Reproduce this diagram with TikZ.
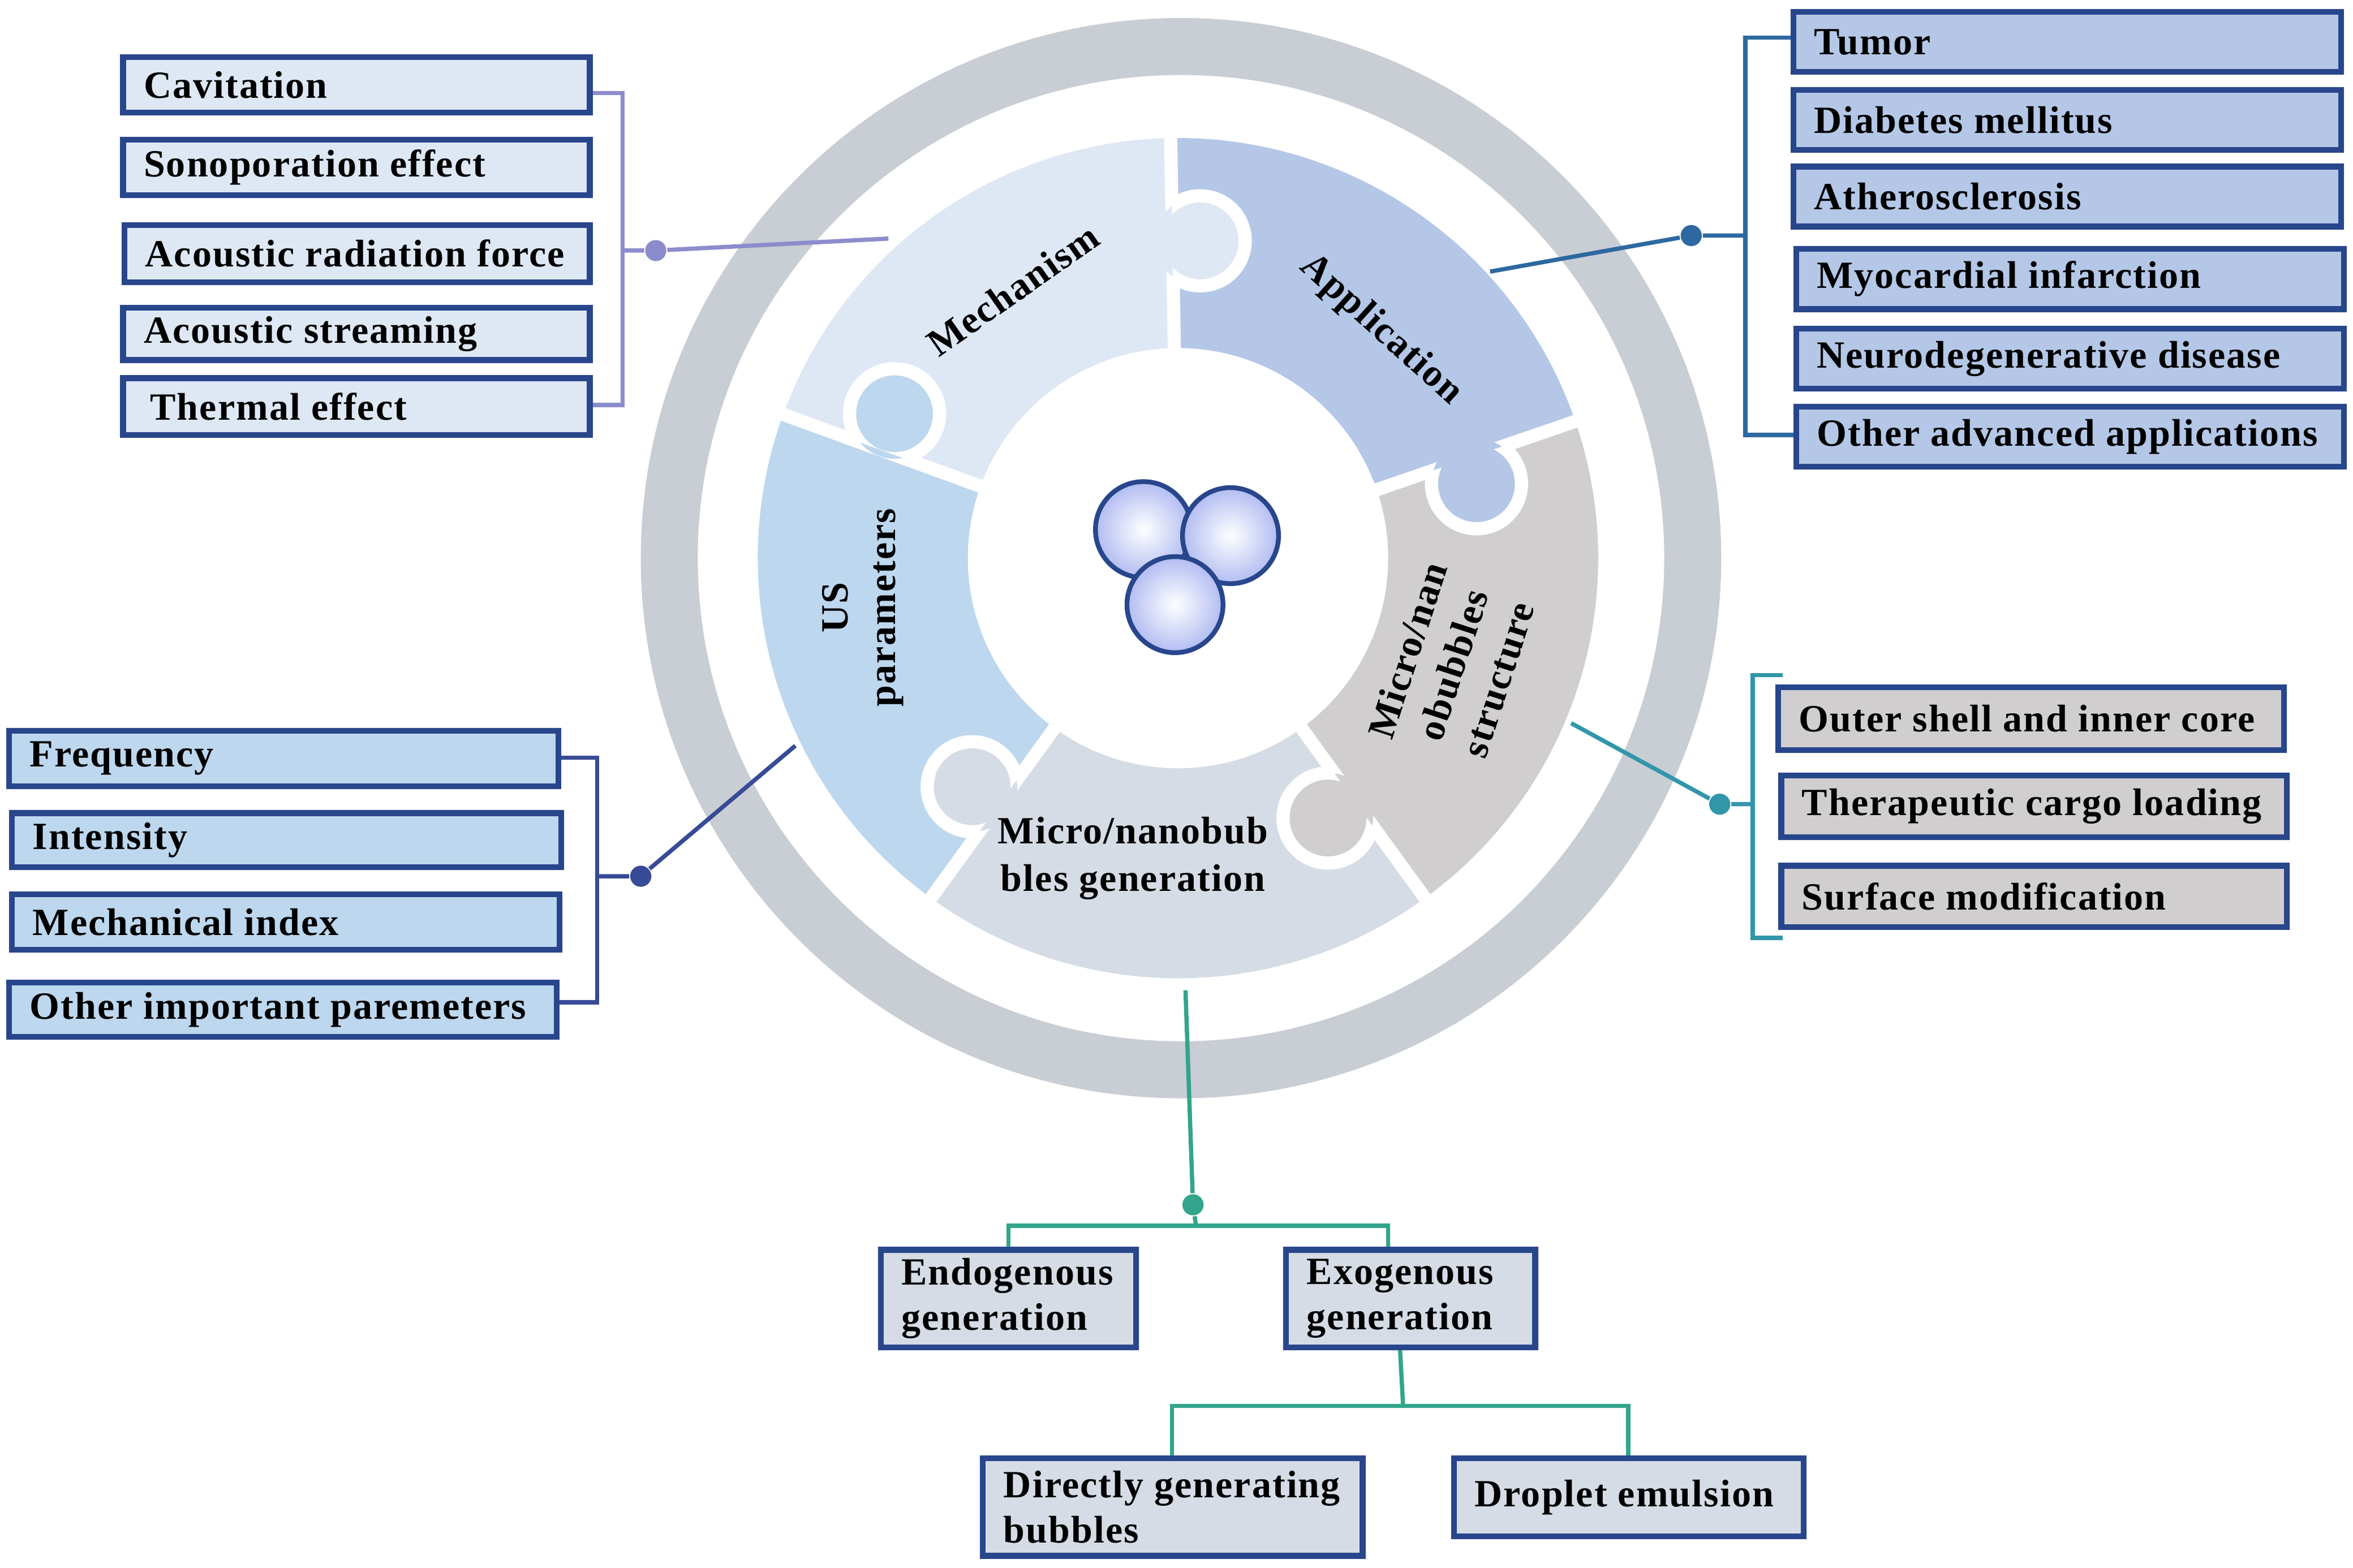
\documentclass[tikz,border=0pt]{standalone}
\usepackage{fontspec}
\setmainfont{Liberation Serif}[LetterSpace=3]
\usetikzlibrary{fit}
\definecolor{ring}{RGB}{201,205,212}
\definecolor{cMech}{RGB}{222,232,245}
\definecolor{cApp}{RGB}{180,199,231}
\definecolor{cStr}{RGB}{208,206,206}
\definecolor{cGen}{RGB}{214,220,229}
\definecolor{cUS}{RGB}{189,215,238}
\definecolor{bord}{RGB}{40,70,140}
\definecolor{lMech}{RGB}{140,140,205}
\definecolor{lApp}{RGB}{45,105,160}
\definecolor{lStr}{RGB}{50,150,170}
\definecolor{lUS}{RGB}{55,75,150}
\definecolor{lGen}{RGB}{50,165,140}
\tikzset{
 box/.style={draw=bord,line width=1.1pt,inner sep=0pt},
 btxt/.style={anchor=west,font=\fontsize{7.3}{8.6}\selectfont\bfseries,align=left,inner sep=0pt},
 plab/.style={font=\fontsize{7.3}{9}\selectfont\bfseries,align=center},
 conn/.style={line width=0.8pt},
 dot/.style={circle,fill,inner sep=0pt,minimum size=4pt}
}
\newcommand{\bx}[7]{\node[box,fill=#6,fit={(#2,#3)(#4,#5)}] (#1) {};
 \node[btxt] (#1-t) at ([xshift=0.15cm]#1.west) {#7};}
\newcommand{\sectpath}[2]{(#1:140) -- (#1:280) arc[start angle=#1,end angle=#2,radius=280] -- (#2:140) arc[start angle=#2,end angle=#1,radius=140] -- cycle}
\newcommand{\tab}[5]{%
 \fill[#1] (#2:#3) circle[radius=30];
 \begin{scope}\clip \sectpath{#4}{#5};
 \draw[white,line width=2.5pt] (#2:#3) circle[radius=30];\end{scope}}
\begin{document}
\begin{tikzpicture}[x=0.01cm,y=-0.01cm]
\useasboundingbox (0,0) rectangle (1568,1045);
\fill[ring] (787,372) circle[radius=360];
\fill[white] (787,372) circle[radius=322];
\begin{scope}[shift={(785,372)},yscale=-1]
\fill[cUS] \sectpath{160}{234};
\fill[cMech] \sectpath{91}{160};
\fill[cApp] \sectpath{19}{91};
\fill[cStr] \sectpath{-54}{19};
\fill[cGen] \sectpath{234}{306};
\foreach \a in {160,91,19,-54,234}{\draw[white,line width=2.5pt] (\a:138) -- (\a:282);}
\tab{cUS}{153}{212}{91}{160}
\tab{cApp}{14}{205}{-54}{19}
\tab{cStr}{-60}{200}{234}{306}
\tab{cGen}{-132}{205}{160}{234}
\tab{cMech}{86}{212}{19}{91}
\fill[white] (0,0) circle[radius=140];
\end{scope}
\foreach \p in {(762,353),(820,357),(783,403)}{
 \shade[inner color=white,outer color=cApp!80!blue!70] \p circle[radius=32];
 \draw[bord,line width=0.9pt] \p circle[radius=32];}
\node[plab,rotate=35] (lmech) at (675,193) {Mechanism};
\node[plab,rotate=-42] (lapp) at (920,220) {Application};
\node[plab,rotate=90] (lus) at (575,405) {US\\parameters};
\node[plab,rotate=72] (lstr) at (968,443) {Micro/nan\\obubbles\\structure};
\node[plab] (lgen) at (755,572) {Micro/nanobub\\bles generation};
\bx{cav}{82}{38}{393}{75}{cMech}{Cavitation}
\bx{son}{82}{93}{393}{130}{cMech}{Sonoporation effect}
\bx{arf}{83}{150}{393}{188}{cMech}{Acoustic radiation force}
\bx{ast}{82}{205}{393}{240}{cMech}{Acoustic streaming}
\bx{the}{82}{252}{393}{290}{cMech}{\,Thermal effect}
\coordinate (m1) at (415,62); \coordinate (m2) at (415,270);
\node[dot,lMech] (md) at (437,167) {};
\coordinate (me) at (592,159);
\draw[lMech,conn] (cav.east|-m1) -- (m1) -- (m2) -- (the.east|-m2);
\draw[lMech,conn] (415,167) -- (md) -- (me);
\bx{tum}{1195}{8}{1560}{48}{cApp}{Tumor}
\bx{dia}{1195}{60}{1560}{100}{cApp}{Diabetes mellitus}
\bx{ath}{1195}{111}{1560}{151}{cApp}{Atherosclerosis}
\bx{myo}{1197}{166}{1562}{206}{cApp}{Myocardial infarction}
\bx{neu}{1197}{219}{1562}{259}{cApp}{Neurodegenerative disease}
\bx{oth}{1197}{271}{1562}{311}{cApp}{Other advanced applications}
\coordinate (a1) at (1163,25); \coordinate (a2) at (1163,290);
\node[dot,lApp] (ad) at (1127,157) {};
\coordinate (ae) at (993,181);
\draw[lApp,conn] (tum.west|-a1) -- (a1) -- (a2) -- (oth.west|-a2);
\draw[lApp,conn] (1163,157) -- (ad) -- (ae);
\bx{out}{1185}{458}{1522}{500}{cStr}{Outer shell and inner core}
\bx{ther}{1187}{517}{1524}{558}{cStr}{Therapeutic cargo loading}
\bx{sur}{1187}{577}{1524}{618}{cStr}{Surface modification}
\coordinate (s1) at (1168,450); \coordinate (s2) at (1168,625);
\node[dot,lStr] (sd) at (1146,536) {};
\coordinate (se) at (1047,482);
\draw[lStr,conn] (1188,450) -- (s1) -- (s2) -- (1188,625);
\draw[lStr,conn] (1168,536) -- (sd) -- (se);
\bx{fre}{6}{487}{372}{524}{cUS}{Frequency}
\bx{int}{8}{542}{374}{578}{cUS}{Intensity}
\bx{mec}{8}{596}{373}{633}{cUS}{Mechanical index}
\bx{oip}{6}{655}{371}{691}{cUS}{Other important paremeters}
\coordinate (u1) at (398,505); \coordinate (u2) at (398,668);
\node[dot,lUS] (ud) at (427,584) {};
\coordinate (ue) at (530,497);
\draw[lUS,conn] (fre.east|-u1) -- (u1) -- (u2) -- (oip.east|-u2);
\draw[lUS,conn] (398,584) -- (ud) -- (ue);
\bx{endo}{587}{833}{757}{898}{cGen}{Endogenous\\generation}
\bx{exo}{857}{833}{1023}{898}{cGen}{Exogenous\\generation}
\bx{dir}{655}{972}{908}{1037}{cGen}{Directly generating\\bubbles}
\bx{dro}{969}{972}{1202}{1024}{cGen}{Droplet emulsion}
\coordinate (gs) at (790,660);
\node[dot,lGen] (gd) at (795,803) {};
\draw[lGen,conn] (gs) -- (gd) -- (797,817);
\draw[lGen,conn] (endo.north-|672,0) -- (672,817) -- (925,817) -- (exo.north-|925,0);
\draw[lGen,conn] (exo.south-|933,0) -- (935,937);
\draw[lGen,conn] (dir.north-|781,0) -- (781,937) -- (1085,937) -- (dro.north-|1085,0);
\end{tikzpicture}
\end{document}
